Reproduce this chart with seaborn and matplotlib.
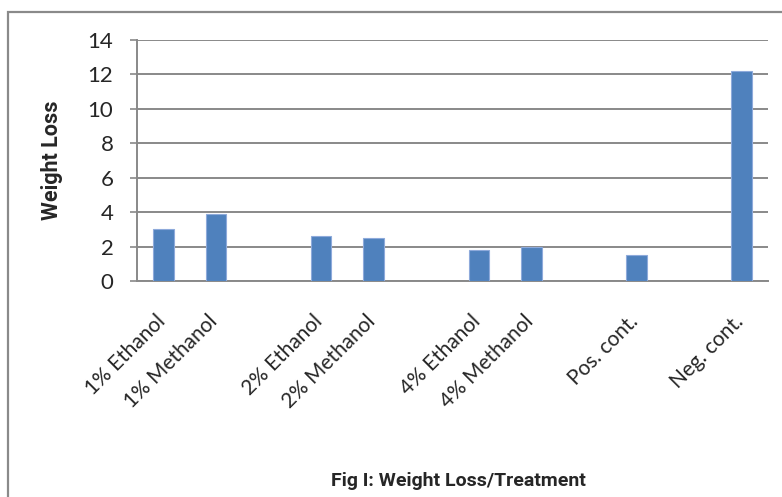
import numpy as np
import pandas as pd
import matplotlib
matplotlib.use("Agg")
import matplotlib.pyplot as plt
from matplotlib.patches import Rectangle
from matplotlib.transforms import ScaledTranslation
import seaborn as sns

# categories incl. blank spacer slots, as in the original sheet
categories = ["1% Ethanol", "1% Methanol", " ", "2% Ethanol", "2% Methanol", "  ",
              "4% Ethanol", "4% Methanol", "   ", "Pos. cont.", "    ", "Neg. cont."]
weight_loss = [3.0, 3.9, np.nan, 2.6, 2.5, np.nan,
               1.8, 2.0, np.nan, 1.5, np.nan, 12.2]
yticks = [0, 2, 4, 6, 8, 10, 12, 14]

df = pd.DataFrame({"treatment": categories, "loss": weight_loss})

sns.set_style("white")
plt.rcParams['font.family'] = ['Lato', 'DejaVu Sans']

grid_col = '#898989'

fig = plt.figure(figsize=(7.82, 4.97), dpi=100)
ax = fig.add_axes([137/782, 1 - 281/497, (768 - 137)/782, (281 - 40)/497])

sns.barplot(data=df, x="treatment", y="loss", order=categories, ax=ax,
            color='#4F81BD', saturation=1, width=0.39,
            edgecolor='#8EAADB', linewidth=0.8, zorder=3)

ax.set_ylim(0, 14)
ax.set_xlim(-0.5, len(categories) - 0.5)
ax.set_yticks(yticks)
ax.set_yticklabels([str(t) for t in yticks], fontsize=16)
ax.yaxis.grid(True, color=grid_col, linewidth=1.4, zorder=0)
ax.set_axisbelow(True)

for s in ['top', 'right']:
    ax.spines[s].set_visible(False)
for s in ['left', 'bottom']:
    ax.spines[s].set_color(grid_col)
    ax.spines[s].set_linewidth(1.4)

ax.tick_params(axis='y', length=5, width=1.2, color=grid_col, pad=12, left=True)
ax.tick_params(axis='x', length=0, pad=22)
ax.set_xticks(range(len(categories)))
ax.set_xticklabels(categories, rotation=45, ha='right', va='top',
                   rotation_mode='anchor', fontsize=15)
shift = ScaledTranslation(-6/72, 0, fig.dpi_scale_trans)
for lbl in ax.get_xticklabels():
    lbl.set_transform(lbl.get_transform() + shift)

ax.set_xlabel("")
ax.set_ylabel("Weight Loss", fontsize=15.5, fontweight='bold',
              family=['Roboto', 'DejaVu Sans'])
ax.yaxis.set_label_coords((63 - 137) / 631, 0.5)

fig.text(458/782, 1 - 481/497, "Fig I: Weight Loss/Treatment",
         ha='center', va='center', fontsize=14, fontweight='bold',
         family=['Roboto', 'DejaVu Sans'])

# chart area frame (cut off on right and bottom as in the source)
fig.patches.append(Rectangle((8/782, -0.2), 1.2, 1.2 - 12/497,
                             transform=fig.transFigure, fill=False,
                             edgecolor='#8a8a8a', linewidth=1.6))

fig.savefig("out.png", dpi=100)
